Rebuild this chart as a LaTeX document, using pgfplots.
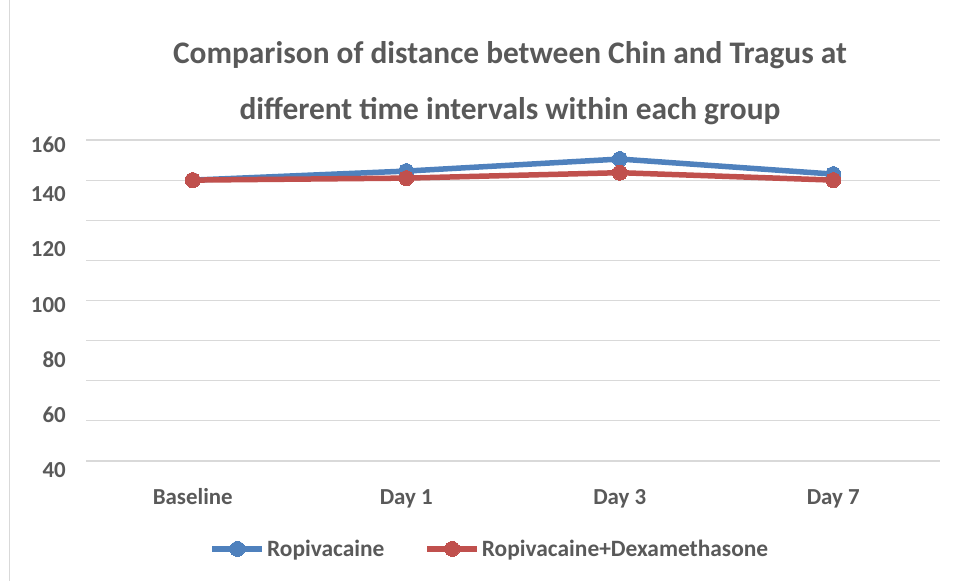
\documentclass[border=0pt]{standalone}
\usepackage{pgfplots}
\pgfplotsset{compat=1.18}
\usepackage{fontspec}
\setmainfont{Carlito}
\definecolor{txt}{HTML}{595959}
\definecolor{grd}{HTML}{D9D9D9}
\definecolor{sblue}{HTML}{4F81BD}
\definecolor{sred}{HTML}{C0504D}
\begin{document}
\begin{tikzpicture}[x=1bp,y=1bp]
\useasboundingbox (0,0) rectangle (959,581);
\draw[grd, line width=1bp] (9,0) -- (9,581);
\node[font=\fontsize{31.5}{36}\selectfont\bfseries, text=txt] at (510,526) {Comparison of distance between Chin and Tragus at};
\node[font=\fontsize{31.5}{36}\selectfont\bfseries, text=txt] at (510,470) {different time intervals within each group};
\begin{axis}[
  at={(86bp,108bp)}, anchor=south west,
  scale only axis, width=854bp, height=333bp,
  xmin=-0.5, xmax=3.5, ymin=-6, ymax=160,
  axis line style={draw=none},
  xtick={0,1,2,3}, xticklabels={Baseline,Day 1,Day 3,Day 7},
  ytick={157.4,133.1,105.5,77.8,50.4,22.9,-4.5},
  yticklabels={160,140,120,100,80,60,40},
  minor ytick={0,20,...,160},
  yminorgrids=true, ymajorgrids=false, xmajorgrids=false,
  minor grid style={grd, line width=1.2bp},
  major tick length=0pt, minor tick length=0pt,
  tick style={draw=none},
  ticklabel style={font=\fontsize{23}{26}\selectfont\bfseries, text=txt},
  yticklabel style={anchor=east, inner sep=0pt, xshift=-20bp},
  xticklabel style={anchor=base, inner sep=0pt, yshift=-32bp},
  clip=false,
  legend columns=2,
  legend style={at={(0.473,-0.228)}, anchor=center, draw=none, fill=none,
    font=\fontsize{23.5}{27}\selectfont\bfseries, text=txt,
    /tikz/every even column/.append style={column sep=38bp}},
  legend image code/.code={
    \draw[#1, mark=none] (0bp,0bp) -- (50bp,0bp);
    \draw[#1, only marks] plot coordinates {(25bp,0bp)};
  },
]
\addplot[sblue, line width=5.5bp, mark=*, mark size=7.5bp, mark options={fill=sblue, draw=sblue, line width=0pt}]
  coordinates {(0,140) (1,144.5) (2,150.5) (3,143)};
\addlegendentry{Ropivacaine}
\addplot[sred, line width=5.5bp, mark=*, mark size=7.5bp, mark options={fill=sred, draw=sred, line width=0pt}]
  coordinates {(0,140) (1,141) (2,143.7) (3,140)};
\addlegendentry{Ropivacaine+Dexamethasone}
\end{axis}
\end{tikzpicture}
\end{document}
